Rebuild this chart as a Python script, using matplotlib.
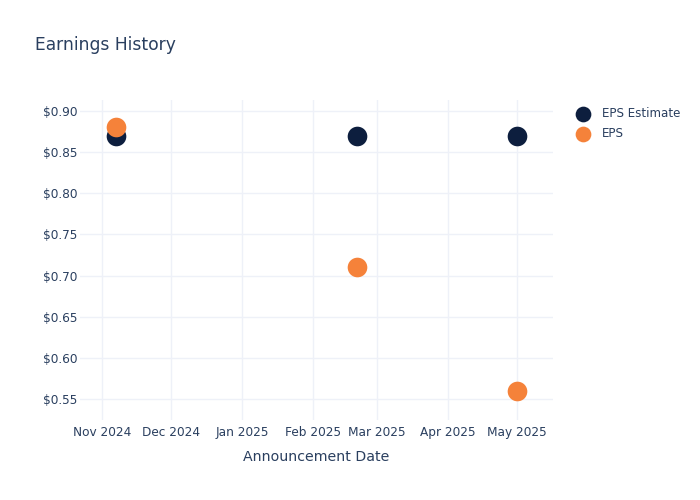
#!/usr/bin/env python3
"""Earnings history scatter: EPS estimate vs actual EPS"""

import matplotlib
matplotlib.use('Agg')
import matplotlib.pyplot as plt
import matplotlib.dates as mdates
import numpy as np

# data
dates = np.array(['2024-11-07', '2025-02-20', '2025-05-01'], dtype='datetime64[D]')
eps_estimate = [0.87, 0.87, 0.87]
eps_actual = [0.88, 0.71, 0.56]
series_names = ['EPS Estimate', 'EPS']

text_color = '#2a3f5f'
grid_color = '#eef1f8'
navy = '#0d1e3e'
orange = '#f5823a'

plt.rcParams['font.family'] = ['DejaVu Sans']

fig = plt.figure(figsize=(7, 5), dpi=100)
ax = fig.add_axes([80 / 700, 80 / 500, 473 / 700, 320 / 500])

ax.scatter(dates, eps_estimate, s=200, color=navy, label=series_names[0], zorder=3, linewidths=0)
ax.scatter(dates, eps_actual, s=200, color=orange, label=series_names[1], zorder=4, linewidths=0)

ax.set_xlim(np.datetime64('2024-10-22T10'), np.datetime64('2025-05-16T16'))
ax.set_ylim(0.5245, 0.9134)

ax.xaxis.set_major_locator(mdates.MonthLocator())
ax.xaxis.set_major_formatter(mdates.DateFormatter('%b %Y'))
ax.set_yticks([0.55, 0.60, 0.65, 0.70, 0.75, 0.80, 0.85, 0.90])
ax.yaxis.set_major_formatter(plt.FuncFormatter(lambda v, p: f'${v:.2f}'))

ax.grid(True, color=grid_color, linewidth=1)
ax.set_axisbelow(True)
for sp in ax.spines.values():
    sp.set_visible(False)
ax.tick_params(length=0, labelsize=8.7, colors=text_color)
ax.tick_params(axis='x', pad=4)
ax.tick_params(axis='y', pad=2)

ax.set_xlabel('Announcement Date', fontsize=10.2, color=text_color, labelpad=8)
fig.text(35 / 700, 1 - 45 / 500, 'Earnings History', fontsize=12.3, color=text_color,
         va='center', ha='left')

leg = ax.legend(loc='upper left', bbox_to_anchor=(571 / 700, 1 - 107 / 500),
                bbox_transform=fig.transFigure, frameon=False, fontsize=8.6,
                handletextpad=0.6, labelspacing=0.62, borderaxespad=0, borderpad=0,
                markerscale=0.8)
for t in leg.get_texts():
    t.set_color(text_color)

plt.savefig('out.png', dpi=100)
